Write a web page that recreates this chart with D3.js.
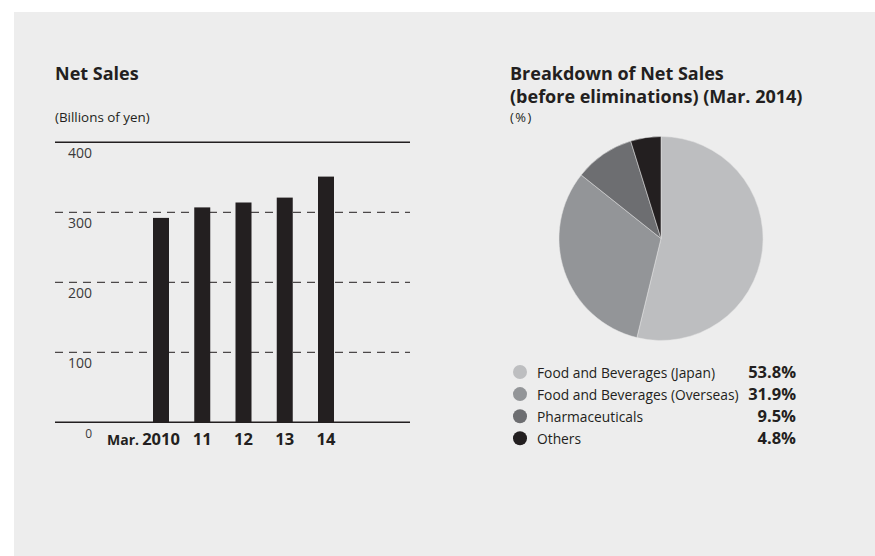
<!DOCTYPE html>
<html>
<head>
<meta charset="utf-8">
<script src="https://cdn.jsdelivr.net/npm/d3@7"></script>
<style>
  html, body { margin: 0; padding: 0; background: #ffffff; }
  svg { display: block; }
  text { font-family: "Open Sans", "Noto Sans", sans-serif; fill: #231f20; }
</style>
</head>
<body>
<svg id="chart" width="875" height="556"></svg>
<script>
// Net sales by fiscal year (billions of yen)
const years = ["2010", "11", "12", "13", "14"];
const netSales = [292, 307, 314, 321, 351];
const yTicks = [0, 100, 200, 300, 400];

// Breakdown of net sales, Mar. 2014 (%)
const segments = ["Food and Beverages (Japan)", "Food and Beverages (Overseas)", "Pharmaceuticals", "Others"];
const shares = [53.8, 31.9, 9.5, 4.8];
const segmentColors = ["#bdbec0", "#939598", "#6d6e71", "#231f20"];

const svg = d3.select("#chart");

// panel background
svg.append("rect").attr("x", 14).attr("y", 12).attr("width", 861).attr("height", 544).attr("fill", "#ededed");

// ---------- Net Sales bar chart ----------
svg.append("text").attr("x", 55).attr("y", 80).style("font-size", "18px").style("font-weight", 700).text("Net Sales");
svg.append("text").attr("x", 55).attr("y", 122).style("font-size", "13.4px").text("(Billions of yen)");

const plotLeft = 55, plotRight = 410;
const y = d3.scaleLinear().domain([0, 400]).range([422.3, 142.3]);
const x = d3.scalePoint().domain(years).range([161, 326]);

const grid = svg.append("g");
grid.selectAll("line").data(yTicks).join("line")
  .attr("x1", plotLeft).attr("x2", plotRight)
  .attr("y1", d => y(d)).attr("y2", d => y(d))
  .attr("stroke", "#231f20")
  .attr("stroke-width", d => (d === 0 || d === 400) ? 1.4 : 1)
  .attr("stroke-dasharray", d => (d === 0 || d === 400) ? null : "8,6");

grid.selectAll("text").data(yTicks).join("text")
  .attr("x", 92)
  .attr("y", d => d === 0 ? 438 : y(d) + 15.5)
  .attr("text-anchor", "end")
  .style("font-size", d => d === 0 ? "12px" : "14px")
  .style("fill", "#3a3a3a")
  .text(d => d);

const barWidth = 16;
svg.append("g").selectAll("rect").data(netSales).join("rect")
  .attr("x", (d, i) => x(years[i]) - barWidth / 2)
  .attr("y", d => y(d))
  .attr("width", barWidth)
  .attr("height", d => y(0) - y(d))
  .attr("fill", "#231f20");

const xl = svg.append("g");
xl.selectAll("text").data(years).join("text")
  .attr("x", d => x(d)).attr("y", 445)
  .attr("text-anchor", "middle")
  .style("font-size", "16.5px").style("font-weight", 700)
  .text(d => d);
xl.append("text").attr("x", x(years[0]) - 22).attr("y", 445)
  .attr("text-anchor", "end")
  .style("font-size", "14px").style("font-weight", 700)
  .text("Mar.");

// ---------- Breakdown pie ----------
svg.append("text").attr("x", 510).attr("y", 80).style("font-size", "18px").style("font-weight", 700).text("Breakdown of Net Sales");
svg.append("text").attr("x", 510).attr("y", 103).style("font-size", "18px").style("font-weight", 700).text("(before eliminations) (Mar. 2014)");
svg.append("text").attr("x", 510).attr("y", 122).style("font-size", "13px").style("letter-spacing", "1.5px").text("(%)");

const pie = d3.pie().sort(null).value(d => d)(shares);
const arc = d3.arc().innerRadius(0).outerRadius(102);
svg.append("g").attr("transform", "translate(661,238.5)")
  .selectAll("path").data(pie).join("path")
  .attr("d", arc)
  .attr("fill", (d, i) => segmentColors[i])
  .attr("stroke", "#e4e4e4").attr("stroke-width", 0.5);

const legend = svg.append("g").selectAll("g").data(segments).join("g")
  .attr("transform", (d, i) => `translate(0,${372 + i * 22.1})`);
legend.append("circle").attr("cx", 520).attr("cy", 0).attr("r", 7)
  .attr("fill", (d, i) => segmentColors[i]);
legend.append("text").attr("x", 537).attr("y", 5.5)
  .style("font-size", "13.8px").text(d => d);
legend.append("text").attr("x", 796).attr("y", 6).attr("text-anchor", "end")
  .style("font-size", "16.5px").style("font-weight", 700)
  .text((d, i) => d3.format(".1f")(shares[i]) + "%");
</script>
</body>
</html>
